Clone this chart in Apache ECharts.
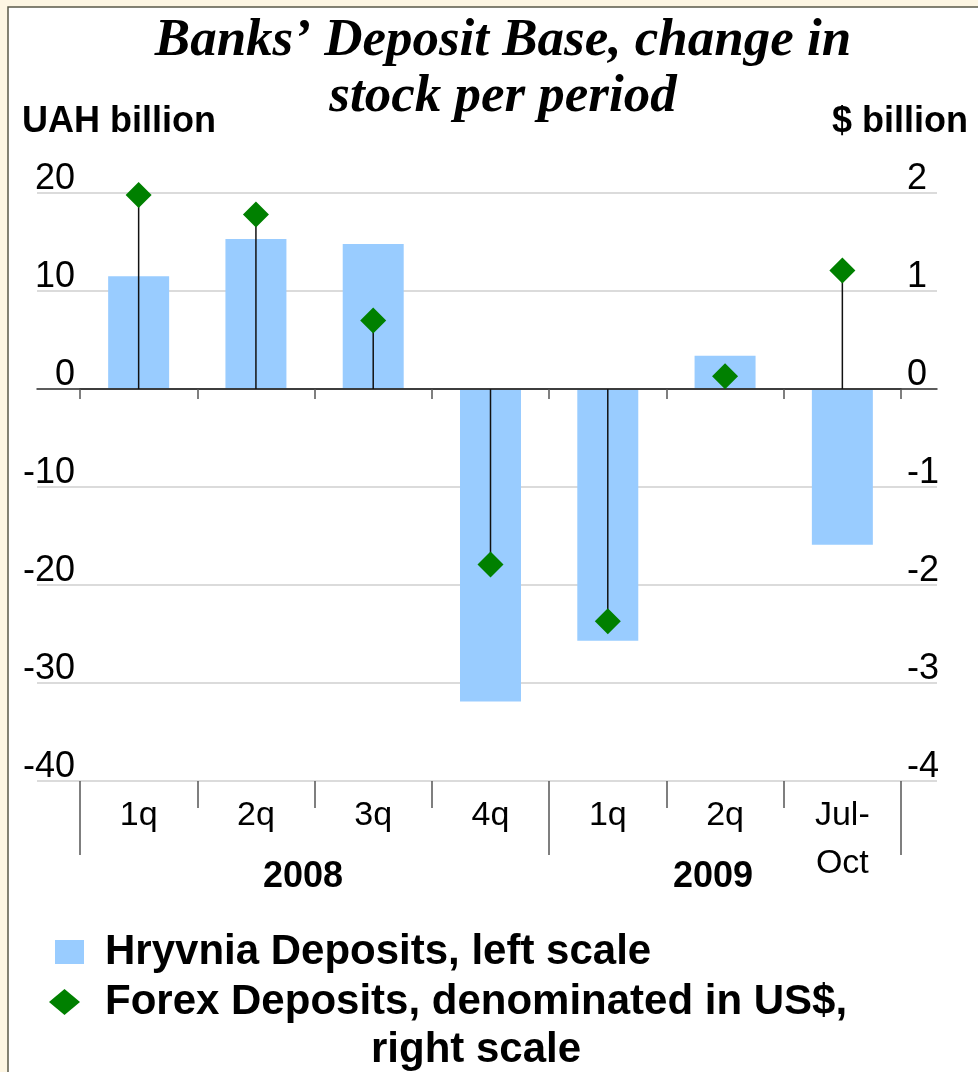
<!DOCTYPE html>
<html>
<head>
<meta charset="utf-8">
<script src="https://cdn.jsdelivr.net/npm/echarts@6/dist/echarts.min.js"></script>
<style>
  html, body { margin: 0; padding: 0; }
  #chart { width: 978px; height: 1072px; }
</style>
</head>
<body>
<div id="chart"></div>
<script>
const categories = ['1q', '2q', '3q', '4q', '1q', '2q', 'Jul-\nOct']
const hryvnia = [11.5, 15.3, 14.8, -31.9, -25.7, 3.4, -15.9]
const forex = [1.98, 1.78, 0.7, -1.79, -2.37, 0.13, 1.21]
const leftTicks = { min: -40, max: 20, interval: 10 }
const rightTicks = { min: -4, max: 2, interval: 1 }

const hryvniaName = 'Hryvnia Deposits, left scale'
const forexName = 'Forex Deposits, denominated in US$, right scale'

const sans = 'Liberation Sans'
const chart = echarts.init(document.getElementById('chart'), null, { renderer: 'canvas' })

const labelText = { fontFamily: sans, fontSize: 36, color: '#000' }
const boldText = { fontFamily: sans, fontSize: 36, fontWeight: 'bold', color: '#000', lineHeight: 40 }
const legendText = { fontFamily: sans, fontSize: 42, fontWeight: 'bold', color: '#000', lineHeight: 48 }

const option = {
  backgroundColor: '#fdf6e3',
  animation: false,
  graphic: [
    {
      type: 'rect',
      z: -1,
      shape: { x: 8, y: 7, width: 1000, height: 1100 },
      style: { fill: '#fff', stroke: '#5a5a4a', lineWidth: 1.5 },
    },
  ],
  title: [
    {
      text: 'Banks\u2019 Deposit Base, change in\nstock per period',
      left: 503,
      top: 13,
      textAlign: 'center',
      padding: 0,
      textStyle: {
        fontFamily: 'Liberation Serif',
        fontStyle: 'italic',
        fontWeight: 'bold',
        fontSize: 53,
        lineHeight: 56,
        color: '#000',
      },
    },
    { text: 'UAH billion', left: 22, top: 102, padding: 0, textStyle: boldText },
    { text: '$ billion', left: 832, top: 102, padding: 0, textStyle: boldText },
    { text: '2008', left: 263, top: 857, padding: 0, textStyle: boldText },
    { text: '2009', left: 673, top: 857, padding: 0, textStyle: boldText },
  ],
  legend: [
    {
      left: 49,
      top: 928,
      padding: 0,
      itemWidth: 51,
      itemHeight: 26,
      selectedMode: false,
      textStyle: legendText,
      data: [{ name: hryvniaName, icon: 'path://M0,0M51,26M6,1L35,1L35,25L6,25Z' }],
    },
    {
      left: 49,
      top: 930,
      padding: 0,
      itemWidth: 51,
      itemHeight: 26,
      selectedMode: false,
      formatter: () => 'Forex Deposits, denominated in US$,\n{b|right scale}',
      textStyle: {
        ...legendText,
        rich: {
          b: { ...legendText, align: 'center' },
        },
      },
      data: [
        {
          name: forexName,
          icon: 'path://M0,0M51,26M0,13L15.5,0L31,13L15.5,26Z',
          textStyle: { padding: [48, 0, 0, 0] },
        },
      ],
    },
  ],
  grid: [
    { left: 37, right: 41, top: 193, bottom: 291 },
    { left: 80, right: 77, top: 193, bottom: 291 },
  ],
  xAxis: [
    {
      // zero line ticks
      type: 'category',
      gridIndex: 1,
      data: categories,
      z: 3,
      axisLine: { show: true, onZero: true, lineStyle: { color: '#333', width: 1.5 } },
      axisTick: { show: true, length: 10, interval: 0, lineStyle: { color: '#555', width: 1.5 } },
      axisLabel: { show: false },
    },
    {
      type: 'category',
      gridIndex: 1,
      position: 'bottom',
      data: categories,
      axisLine: { show: false, onZero: false },
      axisTick: { show: true, length: 27, interval: 0, lineStyle: { color: '#555', width: 1.5 } },
      axisLabel: { interval: 0, margin: 11, lineHeight: 48, ...labelText, fontSize: 34 },
    },
    {
      type: 'category',
      gridIndex: 1,
      position: 'bottom',
      data: categories,
      axisLine: { show: false, onZero: false },
      axisTick: { show: true, length: 74, interval: (i) => i === 0 || i === 4, lineStyle: { color: '#555', width: 1.5 } },
      axisLabel: { show: false },
    },
    {
      // full-width zero line
      type: 'value',
      gridIndex: 0,
      min: 0,
      max: 1,
      z: 3,
      axisLine: { onZero: true, lineStyle: { color: '#333', width: 1.5 } },
      axisTick: { show: false },
      axisLabel: { show: false },
      splitLine: { show: false },
    },
  ],
  yAxis: [
    {
      type: 'value',
      gridIndex: 1,
      position: 'left',
      ...leftTicks,
      axisLine: { show: false },
      axisTick: { show: false },
      splitLine: { show: false },
      axisLabel: { margin: 5, verticalAlign: 'bottom', lineHeight: 28, ...labelText },
    },
    {
      type: 'value',
      gridIndex: 1,
      position: 'right',
      ...rightTicks,
      axisLine: { show: false },
      axisTick: { show: false },
      splitLine: { show: false },
      axisLabel: { margin: 6, verticalAlign: 'bottom', lineHeight: 28, ...labelText },
    },
    {
      type: 'value',
      gridIndex: 0,
      ...leftTicks,
      axisLine: { show: false },
      axisTick: { show: false },
      axisLabel: { show: false },
      splitLine: { lineStyle: { color: '#cfcfcf', width: 1.5 } },
    },
  ],
  series: [
    {
      name: hryvniaName,
      type: 'bar',
      xAxisIndex: 0,
      yAxisIndex: 0,
      barWidth: '52%',
      itemStyle: { color: '#99ccff' },
      data: hryvnia,
    },
    {
      name: 'stems',
      type: 'custom',
      xAxisIndex: 0,
      yAxisIndex: 1,
      z: 4,
      renderItem: (params, api) => {
        const p0 = api.coord([api.value(0), 0])
        const p1 = api.coord([api.value(0), api.value(1)])
        return {
          type: 'line',
          shape: { x1: p0[0], y1: p0[1], x2: p1[0], y2: p1[1] },
          style: { stroke: '#111', lineWidth: 1.5 },
        }
      },
      data: forex.map((v, i) => [i, v]),
    },
    {
      name: forexName,
      type: 'scatter',
      xAxisIndex: 0,
      yAxisIndex: 1,
      z: 5,
      symbol: 'diamond',
      symbolSize: 26,
      itemStyle: { color: '#008000', opacity: 1 },
      data: forex,
    },
  ],
}

chart.setOption(option)
</script>
</body>
</html>
